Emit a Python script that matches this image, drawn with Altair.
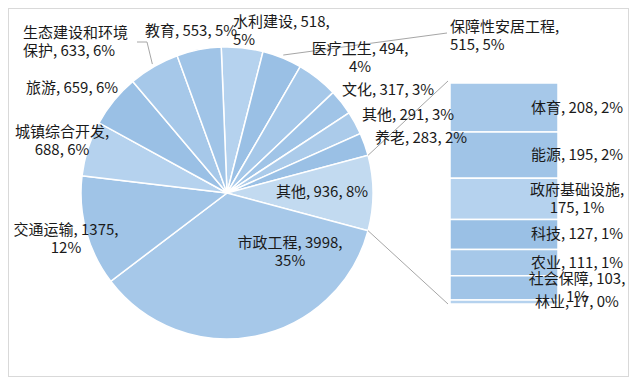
import math
import altair as alt
import pandas as pd

# ---------------- data ----------------
pie_names = ["水利建设", "医疗卫生", "保障性安居工程", "文化", "其他", "养老", "其他",
             "市政工程", "交通运输", "城镇综合开发", "旅游", "生态建设和环境保护", "教育"]
pie_values = [518, 494, 515, 317, 291, 283, 936, 3998, 1375, 688, 659, 633, 553]
pie_pcts = ["5%", "4%", "5%", "3%", "3%", "2%", "8%", "35%", "12%", "6%", "6%", "6%", "5%"]
pie_patterns = ["grid", "checker", "dots", "stripes", "grid2", "checker", "brick",
                "dots", "stripes", "grid", "checker", "dots", "stripes"]

bar_names = ["体育", "能源", "政府基础设施", "科技", "农业", "社会保障", "林业"]
bar_values = [208, 195, 175, 127, 111, 103, 17]
bar_pcts = ["2%", "2%", "1%", "1%", "1%", "1%", "0%"]
bar_patterns = ["dots", "stripes", "grid", "checker", "dots", "stripes", "grid"]

OTHER_INDEX = 6  # pie slice that is expanded into the bar

# ---------------- layout / style ----------------
W, H = 621, 369
CX, CY, R = 219, 185, 146
BAR_X0, BAR_X1 = 442, 550
BAR_Y0, BAR_Y1 = 75, 296
BAR_LABEL_X = 569
FONT = "Noto Sans CJK SC"
FS = 15
LH = 18
TEXT_COLOR = "#1a1a1a"
LINE_COLOR = "#A6A6A6"
PATTERN_COLORS = {
    "dots": "#A6C8E9",
    "stripes": "#A0C4E7",
    "checker": "#9AC0E5",
    "grid": "#B5D2EE",
    "grid2": "#ABCBEA",
    "brick": "#C2DAF0",
}

# label line-break style and anchor placement (layout; y = first line centre)
pie_breaks = ["pct", "pct", "name", "none", "none", "none", "none",
              "pct", "pct", "name", "none", "split7", "none"]
pie_label_pos = [(225, 13.5, "left"), (352, 41, "center"), (442, 19, "left"),
                 (380, 82, "center"), (400, 107, "center"), (413, 130, "center"),
                 (314, 184, "center"), (282, 235, "center"), (58, 222, "center"),
                 (54, 124, "center"), (64, 80, "center"), (15, 25, "left"),
                 (183, 23, "center")]
bar_breaks = ["none", "none", "name", "none", "none", "pct", "none"]


def make_label(name, value, pct, mode):
    if mode == "pct":
        return f"{name}, {value},\n{pct}"
    if mode == "name":
        return f"{name},\n{value}, {pct}"
    if mode == "split7":
        return f"{name[:7]}\n{name[7:]}, {value}, {pct}"
    return f"{name}, {value}, {pct}"


total = sum(pie_values)
# rotate the pie so that the expanded slice is centred at 3 o'clock
before = sum(pie_values[:OTHER_INDEX]) + pie_values[OTHER_INDEX] / 2
a0 = math.pi / 2 - 2 * math.pi * before / total

pie_df = pd.DataFrame({
    "idx": list(range(len(pie_names))),
    "name": pie_names,
    "value": pie_values,
    "color": [PATTERN_COLORS[p] for p in pie_patterns],
})

lab_df = pd.DataFrame({
    "label": [make_label(n, v, p, m) for n, v, p, m in zip(pie_names, pie_values, pie_pcts, pie_breaks)],
    "lx": [p[0] for p in pie_label_pos],
    "ly": [p[1] for p in pie_label_pos],
    "align": [p[2] for p in pie_label_pos],
})

bar_total = sum(bar_values)
b0, acc = [], 0
for v in bar_values:
    b0.append(acc)
    acc += v
bar_df = pd.DataFrame({
    "name": bar_names,
    "value": bar_values,
    "b0": b0,
    "b1": [s + v for s, v in zip(b0, bar_values)],
    "mid": [s + v / 2 for s, v in zip(b0, bar_values)],
    "color": [PATTERN_COLORS[p] for p in bar_patterns],
    "label": [make_label(n, v, p, m) for n, v, p, m in zip(bar_names, bar_values, bar_pcts, bar_breaks)],
    "lines": [1 if m == "none" else 2 for m in bar_breaks],
})


def polar(angle, r):
    return CX + r * math.sin(angle), CY - r * math.cos(angle)


cum = [0]
for v in pie_values:
    cum.append(cum[-1] + v)
ang = [a0 + 2 * math.pi * c / total for c in cum]
mid_ang = [(ang[i] + ang[i + 1]) / 2 for i in range(len(pie_values))]

p_top = polar(ang[OTHER_INDEX], R)
p_bot = polar(ang[OTHER_INDEX + 1], R)
p_med = polar(mid_ang[1], R + 3)
p_eco = polar(mid_ang[11], R + 3)
seg_df = pd.DataFrame([
    {"x": p_top[0], "y": p_top[1], "x2": BAR_X0 - 2, "y2": BAR_Y0 - 2},
    {"x": p_bot[0], "y": p_bot[1], "x2": BAR_X0 - 2, "y2": BAR_Y1},
    {"x": p_med[0], "y": p_med[1], "x2": 439, "y2": 25},
    {"x": p_eco[0], "y": p_eco[1], "x2": 139, "y2": 34},
    {"x": 139, "y": 34, "x2": 129, "y2": 34},
])

yscale = alt.Scale(domain=[0, bar_total], range=[BAR_Y0, BAR_Y1])

pie = alt.Chart(pie_df).mark_arc(radius=R, stroke="white", strokeWidth=1.5).encode(
    theta=alt.Theta("value:Q", stack=True, scale=alt.Scale(range=[a0, a0 + 2 * math.pi])),
    order=alt.Order("idx:Q"),
    fill=alt.Fill("color:N", scale=None),
    x=alt.value(CX),
    y=alt.value(CY),
)

bars = alt.Chart(bar_df).mark_rect(stroke="white", strokeWidth=1.5).encode(
    x=alt.value(BAR_X0),
    x2=alt.value(BAR_X1),
    y=alt.Y("b0:Q", scale=yscale, axis=None),
    y2="b1:Q",
    fill=alt.Fill("color:N", scale=None),
)

segs = alt.Chart(seg_df).mark_rule(color=LINE_COLOR, strokeWidth=1).encode(
    x=alt.X("x:Q", scale=None, axis=None),
    y=alt.Y("y:Q", scale=None, axis=None),
    x2="x2:Q",
    y2="y2:Q",
)

text_common = dict(font=FONT, fontSize=FS, lineBreak="\n", lineHeight=LH,
                   baseline="middle", color=TEXT_COLOR)

bar_text1 = alt.Chart(bar_df).transform_filter(alt.datum.lines == 1).mark_text(
    align="center", **text_common).encode(
    x=alt.value(BAR_LABEL_X),
    y=alt.Y("mid:Q", scale=yscale, axis=None),
    text="label:N",
)
bar_text2 = alt.Chart(bar_df).transform_filter(alt.datum.lines == 2).mark_text(
    align="center", dy=-LH / 2, **text_common).encode(
    x=alt.value(BAR_LABEL_X),
    y=alt.Y("mid:Q", scale=yscale, axis=None),
    text="label:N",
)

pie_text_c = alt.Chart(lab_df).transform_filter(alt.datum.align == "center").mark_text(
    align="center", **text_common).encode(
    x=alt.X("lx:Q", scale=None, axis=None),
    y=alt.Y("ly:Q", scale=None, axis=None),
    text="label:N",
)
pie_text_l = alt.Chart(lab_df).transform_filter(alt.datum.align == "left").mark_text(
    align="left", **text_common).encode(
    x=alt.X("lx:Q", scale=None, axis=None),
    y=alt.Y("ly:Q", scale=None, axis=None),
    text="label:N",
)

chart = alt.layer(pie, bars, segs, bar_text1, bar_text2, pie_text_c, pie_text_l).properties(
    width=W, height=H, padding=0, background="white",
    autosize=alt.AutoSizeParams(type="none"),
).configure_view(stroke="#D9D9D9", strokeWidth=2)

chart.save("out.html", embed_options={"renderer": "svg", "actions": False})
